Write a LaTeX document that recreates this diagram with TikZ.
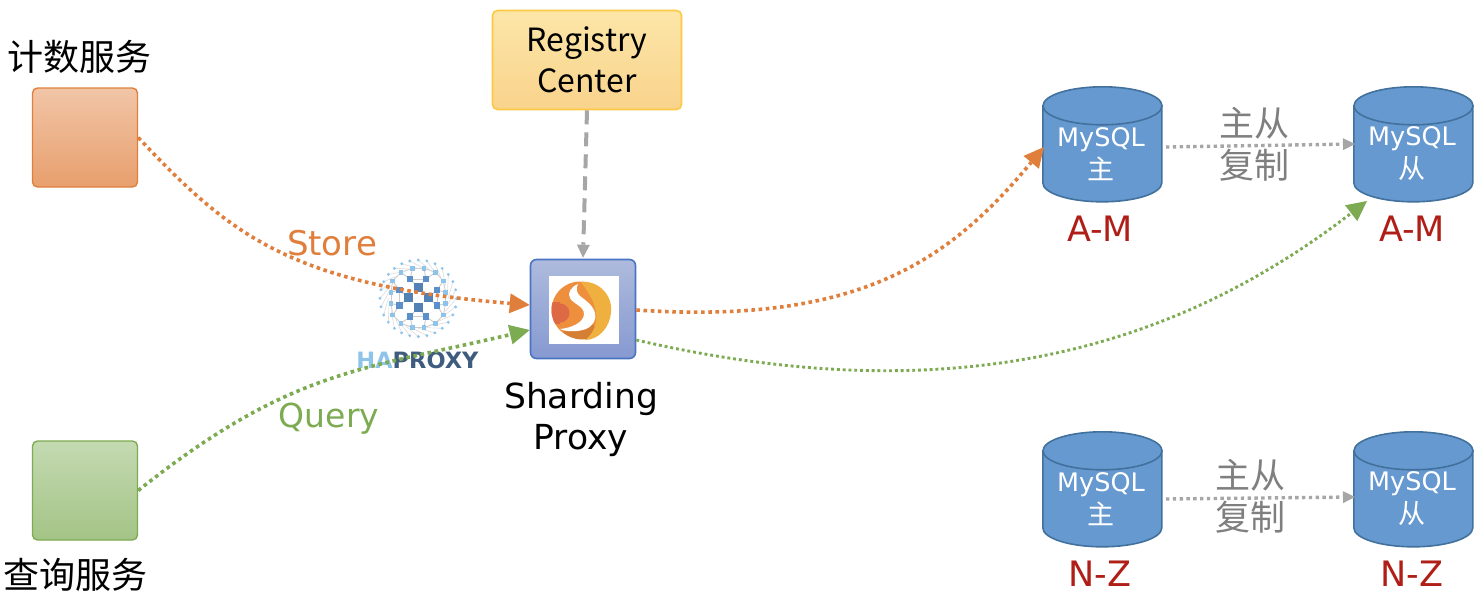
\documentclass[tikz,border=0pt]{standalone}
\usepackage{fontspec}
\setmainfont{Noto Sans CJK SC}
\newfontfamily\djv{DejaVu Sans}
\usetikzlibrary{arrows.meta,calc}
\definecolor{oc}{HTML}{E07F3C}
\definecolor{gc}{HTML}{7CAB52}
\definecolor{gy}{HTML}{A6A6A6}
\definecolor{tg}{HTML}{7F7F7F}
\definecolor{rd}{HTML}{B01F17}
\definecolor{db}{HTML}{6699D0}
\definecolor{dbe}{HTML}{41719C}
\definecolor{hb}{HTML}{5B8FC9}
\definecolor{hl}{HTML}{8FC4EA}
\definecolor{hd}{HTML}{3E5C7E}
\definecolor{regt}{HTML}{FCE6A8}
\definecolor{regb}{HTML}{F9D38C}
\definecolor{regl}{HTML}{FDC843}
\definecolor{prt}{HTML}{AEBBDD}
\definecolor{prb}{HTML}{8699D1}
\definecolor{prl}{HTML}{4A74C2}
\definecolor{flo}{HTML}{EE8F3E}
\definecolor{fly}{HTML}{F0B040}
\definecolor{fld}{HTML}{D57F35}
\definecolor{flr}{HTML}{DE6A45}
\tikzset{
 svc/.style={draw,rounded corners=5pt,line width=1.4pt,minimum width=105pt,minimum height=99pt,inner sep=0pt},
 dbbox/.style={minimum width=119pt,minimum height=115pt,inner sep=0pt},
 dbshape/.style={draw=dbe,line width=1.6pt,fill=db},
 lab/.style={inner sep=0pt,font=\fontsize{36}{38}\selectfont},
 dbt/.style={inner sep=0pt,text=white,font=\djv\fontsize{25.5}{33}\selectfont,align=center},
 rng/.style={inner sep=0pt,text=rd,font=\djv\fontsize{35}{38}\selectfont},
 reptxt/.style={inner sep=0pt,text=tg,align=center,font=\fontsize{35}{42}\selectfont},
 flow/.style={line width=3.6pt,dash pattern=on 3.6pt off 3.6pt,-{Triangle[length=20pt,width=20pt,line width=0pt]}},
 flowthin/.style={line width=2.9pt,dash pattern=on 2.9pt off 2.9pt,-{Triangle[length=20pt,width=20pt,line width=0pt]}},
 rep/.style={line width=3.4pt,gy,dash pattern=on 3.4pt off 3.4pt,-{Triangle[length=12pt,width=12pt,line width=0pt]}},
}
% cylinder drawn on a named rectangular node
\newcommand{\dbcyl}[1]{%
 \path[dbshape] ($(#1.north west)+(0,19)$) -- ++(0,77) arc[start angle=180,end angle=360,x radius=59.5pt,y radius=19pt]
   -- ++(0,-77) -- cycle;
 \path[dbshape] ($(#1.north)+(0,19)$) ellipse[x radius=59.5pt,y radius=19pt];
}
\begin{document}
\begin{tikzpicture}[x=1pt,y=-1pt]
\useasboundingbox (0,0) rectangle (1484,600);
% HAProxy logo
\begin{scope}[shift={(375,255)},x=.3333pt,y=-.3333pt]
 \foreach \a/\b/\c/\d in {130/98/105/72,130/98/153/72,100/128/73/105,100/128/73/152,160/128/186/105,160/128/186/152,130/158/105/185,130/158/153/185,105/72/113/40,153/72/147/40,105/72/78/52,153/72/182/52,73/105/53/78,186/105/205/78,73/105/48/112,186/105/212/112,73/152/48/145,186/152/212/145,73/152/53/180,186/152/205/180,105/185/78/205,153/185/182/205,105/185/113/218,153/185/147/218,113/40/147/40,113/218/147/218,48/112/48/145,212/112/212/145,78/52/53/78,182/52/205/78,78/205/53/180,182/205/205/180,105/72/153/72,105/185/153/185,73/105/73/152,186/105/186/152,113/40/78/52,147/40/182/52,113/218/78/205,147/218/182/205,53/78/48/112,205/78/212/112,53/180/48/145,205/180/212/145}
  {\draw[gray!40,line width=.9pt] (\a,\b) -- (\c,\d);}
 \foreach \i in {1,...,28}{
  \draw[gray!25,line width=.7pt] ($(130,130)+({360*\i/28}:115)$) -- ($(130,130)+({360*(\i+1)/28+13}:90)$);
  \fill[hl] ($(130,130)+({360*\i/28}:115)$) circle[radius=1.6pt];}
 \foreach \x/\y in {113/40,147/40,78/52,182/52,53/78,205/78,48/112,212/112,48/145,212/145,53/180,205/180,78/205,182/205,113/218,147/218}
  {\fill[hl] (\x-7,\y-7) rectangle (\x+7,\y+7);}
 \foreach \x/\y in {105/72,153/72,73/105,186/105,73/152,186/152,105/185,153/185}
  {\fill[hb] (\x-10,\y-10) rectangle (\x+10,\y+10);}
 \foreach \x/\y in {130/98,100/128,160/128,130/158}
  {\fill[hb!90!black] (\x-14,\y-14) rectangle (\x+14,\y+14);}
\end{scope}
\node[inner sep=0pt,font=\djv\fontsize{22.5}{26}\selectfont\bfseries] (hap) at (417.5,360) {\textcolor{hl}{HA}\textcolor{hd}{PROXY}};
% service boxes
\node[svc,draw=oc,top color=oc!45!white,bottom color=oc!75!white] (cnt) at (85,137.5) {};
\node[svc,draw=gc,top color=gc!45!white,bottom color=gc!70!white] (qry) at (85,490.5) {};
\node[lab] (cntl) at (80,57) {计数服务};
\node[lab] (qryl) at (75.5,575) {查询服务};
% registry
\node[draw=regl,line width=1.6pt,rounded corners=5pt,minimum width=189pt,minimum height=99pt,top color=regt,bottom color=regb,align=center,inner sep=0pt,font=\fontsize{32}{41}\selectfont] (reg) at (587,60) {Registry\\Center};
% proxy
\node[draw=prl,line width=1.6pt,rounded corners=6pt,minimum width=105pt,minimum height=99pt,top color=prt,bottom color=prb,inner sep=0pt] (prx) at (583,309) {};
\node[fill=white,minimum width=70pt,minimum height=68pt,inner sep=0pt] (lgo) at (584,310) {};
\fill[flo] (580,310) circle[radius=28.5pt];
\fill[fld] (563,332) .. controls (572,341) and (590,343) .. (600,332) -- (590,322) -- cycle;
\begin{scope}
 \clip (580,310) circle[radius=28.5pt];
 \fill[flr] (560,313) circle[radius=9.5pt] (551,302) rectangle (560,324);
\end{scope}
\fill[fly] (581,282) .. controls (598,280) and (613,295) .. (611,312) .. controls (610,328) and (598,340) .. (585,340) .. controls (592,335) and (598,325) .. (596,312) .. controls (594,300) and (588,292) .. (581,282) -- cycle;
\fill[white] (578,284) .. controls (571,287) and (567,293) .. (570,298) .. controls (573,304) and (584,306) .. (584,314) .. controls (584,322) and (572,328) .. (560,329) .. controls (566,332) and (578,332) .. (586,329) .. controls (593,326) and (597,319) .. (595,313) .. controls (593,305) and (585,300) .. (580,296) .. controls (576,292) and (576,288) .. (578,284) -- cycle;
\node[inner sep=0pt,align=center,font=\djv\fontsize{34.5}{41}\selectfont] (prxl) at (581,419) {Sharding\\Proxy};
% databases
\node[dbbox] (m1) at (1102.5,144.5) {};
\node[dbbox] (s1) at (1413.5,144.5) {};
\node[dbbox] (m2) at (1102.5,489.5) {};
\node[dbbox] (s2) at (1413.5,489.5) {};
\dbcyl{m1}\dbcyl{s1}\dbcyl{m2}\dbcyl{s2}
\node[dbt] (m1t) at (1101,154) {MySQL\\{\rmfamily\fontsize{27}{33}\selectfont 主}};
\node[dbt] (s1t) at (1412,154) {MySQL\\{\rmfamily\fontsize{27}{33}\selectfont 从}};
\node[dbt] (m2t) at (1101,499) {MySQL\\{\rmfamily\fontsize{27}{33}\selectfont 主}};
\node[dbt] (s2t) at (1412,499) {MySQL\\{\rmfamily\fontsize{27}{33}\selectfont 从}};
\node[rng] (r1) at (1100,229) {A-M};
\node[rng] (r2) at (1412,229) {A-M};
\node[rng] (r3) at (1100,574) {N-Z};
\node[rng] (r4) at (1412,574) {N-Z};
\node[reptxt] (rt1) at (1254,144) {主从\\复制};
\node[reptxt] (rt2) at (1250,496) {主从\\复制};
% connectors
\coordinate (prxin1) at (prx.west |- 0,305);
\coordinate (prxin2) at (prx.west |- 0,330);
\coordinate (prxo1) at (prx.east |- 0,310);
\coordinate (prxo2) at (prx.east |- 0,340);
\coordinate (m1in) at (1044,147);
\coordinate (s1in) at (1367,201);
\coordinate (s1e) at (1355,144);
\coordinate (s2e) at (1355,497);
\coordinate (m1o) at (1166,147);
\coordinate (m2o) at (1166,499);
\draw[flow,oc] (cnt.east) .. controls (230,235) and (290,285) .. (prxin1);
\draw[flow,gc] (qry.east) .. controls (290,370) and (360,370) .. (prxin2);
\draw[flow,oc] (prxo1) .. controls (860,325) and (950,260) .. (m1in);
\draw[flowthin,gc] (prxo2) .. controls (960,415) and (1180,345) .. (s1in);
\draw[line width=4pt,gy,dash pattern=on 14pt off 8pt,-{Triangle[length=13pt,width=13pt,line width=0pt]}] (reg.south) -- ($(prx.north)+(0,-1)$);
\draw[rep] (m1o) -- (s1e);
\draw[rep] (m2o) -- (s2e);
\node[inner sep=0pt,text=oc,font=\djv\fontsize{34}{36}\selectfont] (st) at (332,243) {Store};
\node[inner sep=0pt,text=gc,font=\djv\fontsize{33}{36}\selectfont] (qu) at (329,419) {Query};
\end{tikzpicture}
\end{document}
